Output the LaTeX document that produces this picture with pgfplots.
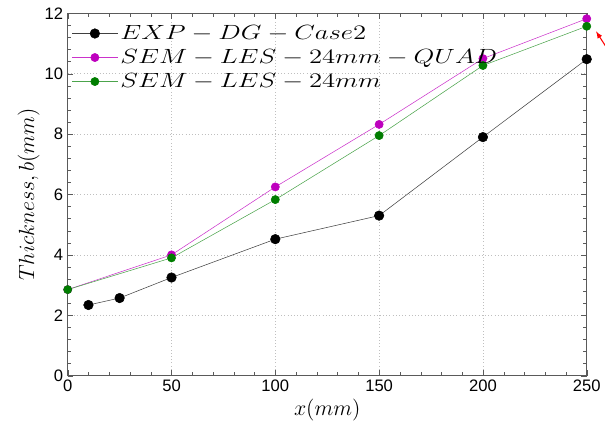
\RequirePackage{fix-cm}
\documentclass[border=0pt]{standalone}
\usepackage{fontspec}
\setmainfont{Liberation Sans}
\usepackage{graphicx}
\usepackage{pgfplots}
\pgfplotsset{compat=1.18}
\definecolor{axgray}{RGB}{90,90,90}
\definecolor{mag}{RGB}{190,0,190}
\definecolor{grn}{RGB}{0,125,0}
\newcommand{\legtxt}[1]{\scalebox{1.3}[1]{$#1$}}
\begin{document}
\begin{tikzpicture}
  \begin{axis}[
    scale only axis,
    width=391pt, height=273pt,
    xmin=0, xmax=250, ymin=0, ymax=12,
    xtick={0,50,...,250}, ytick={0,2,...,12},
    minor x tick num=4, minor y tick num=4,
    tick align=inside,
    axis line style={axgray},
    tick style={axgray},
    grid=major,
    major grid style={dotted, gray!50},
    /pgf/number format/assume math mode=true,
    ticklabel style={font=\fontsize{12.5}{14}\selectfont},
    xlabel={$x(mm)$},
    ylabel={$Thickness, b(mm)$},
    label style={font=\fontsize{16.5}{18}\selectfont},
    xlabel style={at={(axis description cs:0.5,-0.095)}, anchor=center},
    ylabel style={at={(axis description cs:-0.075,0.5)}, anchor=center},
    legend style={draw=none, fill=none, font=\fontsize{15.5}{18}\selectfont,
      at={(0,1)}, anchor=north west, xshift=2pt, yshift=-4pt,
      inner xsep=1pt, inner ysep=3pt, row sep=2pt},
    legend cell align=left,
    legend image code/.code={\draw[mark repeat=2,mark phase=2,#1]
      plot coordinates {(0cm,0cm) (0.6cm,0cm) (1.2cm,0cm)};},
    clip=false,
  ]
    \addplot[black!75, thin, mark=*, mark size=3.6pt,
             mark options={fill=black, draw=black}]
      coordinates {(10,2.34) (25,2.57) (50,3.25) (100,4.52) (150,5.3) (200,7.9) (250,10.48)};
    \addlegendentry{\legtxt{EXP-DG-Case2}}
    \addplot[mag!80, thin, mark=*, mark size=3.1pt,
             mark options={fill=mag, draw=mag}]
      coordinates {(0,2.85) (50,4.0) (100,6.25) (150,8.32) (200,10.5) (250,11.82)};
    \addlegendentry{\legtxt{SEM-LES-24mm-QUAD}}
    \addplot[grn!70, thin, mark=*, mark size=3.1pt,
             mark options={fill=grn, draw=grn}]
      coordinates {(0,2.85) (50,3.9) (100,5.83) (150,7.95) (200,10.27) (250,11.57)};
    \addlegendentry{\legtxt{SEM-LES-24mm}}
    \draw[red, thick, -{latex}, overlay] (axis cs:262,10.6) -- (axis cs:254.5,11.4);
  \end{axis}
  \path (current axis.south west) ++(-51pt,-43pt) rectangle
        ([shift={(11pt,10pt)}]current axis.north east);
\end{tikzpicture}
\end{document}
